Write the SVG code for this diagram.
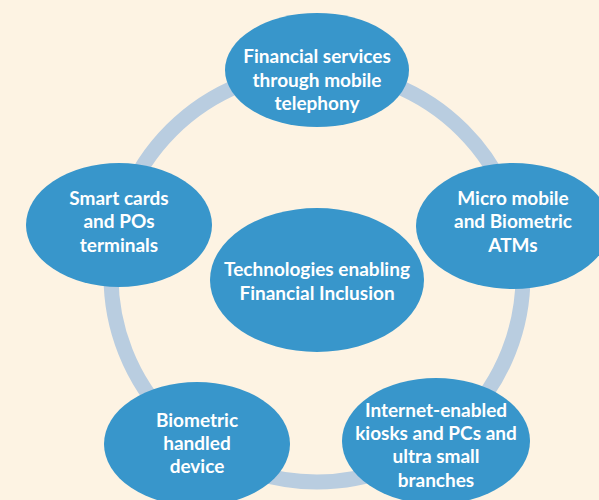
<svg xmlns="http://www.w3.org/2000/svg" width="599" height="500" viewBox="0 0 599 500">
<style>
.n{fill:#3896cb}
.t{font-family:Lato,"Open Sans",sans-serif;font-weight:bold;font-size:19px;fill:#ffffff;text-anchor:middle}
</style>
<rect width="599" height="500" fill="#fdf3e3"/>
<g id="connectors">
<circle cx="317" cy="276" r="206" fill="none" stroke="#b9cde0" stroke-width="15"/>
</g>
<g id="center">
<ellipse class="n" cx="317" cy="280" rx="107" ry="72"/>
<text class="t" x="317" y="276">Technologies enabling</text>
<text class="t" x="317" y="300">Financial Inclusion</text>
</g>
<g id="top">
<ellipse class="n" cx="317" cy="70" rx="92" ry="57"/>
<text class="t" x="317" y="63">Financial services</text>
<text class="t" x="317" y="87">through mobile</text>
<text class="t" x="317" y="110">telephony</text>
</g>
<g id="left">
<ellipse class="n" cx="119" cy="225" rx="93" ry="62"/>
<text class="t" x="119" y="205">Smart cards</text>
<text class="t" x="119" y="228">and POs</text>
<text class="t" x="119" y="252">terminals</text>
</g>
<g id="right">
<ellipse class="n" cx="513" cy="226" rx="97" ry="63"/>
<text class="t" x="513" y="205">Micro mobile</text>
<text class="t" x="513" y="228">and Biometric</text>
<text class="t" x="513" y="252">ATMs</text>
</g>
<g id="bottomleft">
<ellipse class="n" cx="197" cy="444" rx="93" ry="62"/>
<text class="t" x="197" y="427">Biometric</text>
<text class="t" x="197" y="450">handled</text>
<text class="t" x="197" y="473">device</text>
</g>
<g id="bottomright">
<ellipse class="n" cx="436" cy="441" rx="94" ry="63"/>
<text class="t" x="436" y="417">Internet-enabled</text>
<text class="t" x="436" y="440">kiosks and PCs and</text>
<text class="t" x="436" y="463">ultra small</text>
<text class="t" x="436" y="487">branches</text>
</g>
</svg>
